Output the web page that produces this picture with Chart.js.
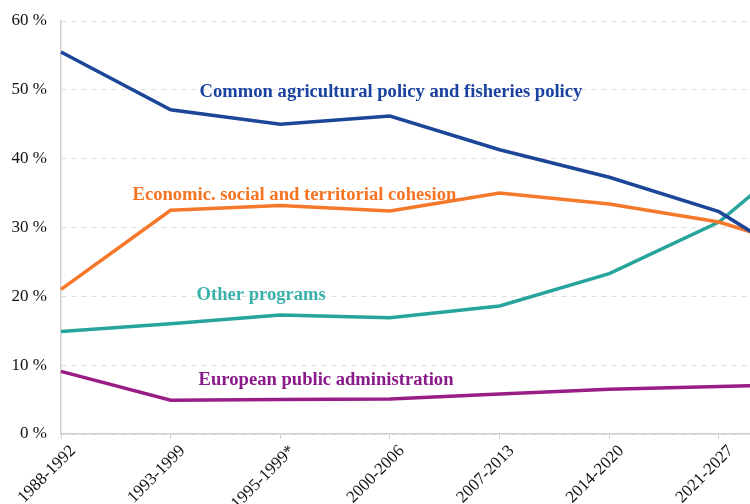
<!DOCTYPE html>
<html>
<head>
<meta charset="utf-8">
<script src="https://cdn.jsdelivr.net/npm/chart.js@4.4.1/dist/chart.umd.min.js"></script>
<style>
  html, body { margin: 0; padding: 0; background: #fff; overflow: hidden; }
  #wrap { width: 845px; height: 504px; }
</style>
</head>
<body>
<div id="wrap"><canvas id="myChart"></canvas></div>
<script>
// budget periods (last one runs past the right edge)
const periods = ['1988-1992', '1993-1999', '1995-1999*', '2000-2006', '2007-2013', '2014-2020', '2021-2027', ''];

// share of the budget, %
const agriculture = [55.5, 47.1, 45.0, 46.2, 41.3, 37.3, 32.3, 22.4];
const cohesion    = [21.0, 32.5, 33.2, 32.4, 35.0, 33.4, 30.8, 25.9];
const other       = [14.9, 16.0, 17.3, 16.9, 18.6, 23.3, 30.8, 44.1];
const admin       = [9.1, 4.9, 5.0, 5.1, 5.8, 6.5, 6.9, 7.3];

const yTicks = [0, 10, 20, 30, 40, 50, 60];

const names = [
  'Common agricultural policy and fisheries policy',
  'Economic. social and territorial cohesion',
  'Other programs',
  'European public administration'
];
const lineColors = ['#1c4697', '#f5782b', '#27a59c', '#981e85'];
const textColors = ['#1a43a0', '#f57424', '#3bb2a9', '#8a1a8a'];
// where each name sits: [category index, value]
const namePos = [[1.264, 49.7], [0.652, 34.7], [1.236, 20.2], [1.255, 7.85]];

const seriesLabels = {
  id: 'seriesLabels',
  afterDatasetsDraw(chart) {
    const { ctx, scales: { x, y } } = chart;
    ctx.save();
    ctx.font = 'bold 18.6px "Liberation Serif", "Times New Roman", serif';
    ctx.textBaseline = 'middle';
    ctx.textAlign = 'left';
    names.forEach((name, i) => {
      ctx.fillStyle = textColors[i];
      ctx.fillText(name, x.getPixelForValue(namePos[i][0]), y.getPixelForValue(namePos[i][1]));
    });
    ctx.restore();
  }
};

const serif = '"Liberation Serif", "Times New Roman", serif';

const ctx = document.getElementById('myChart');

new Chart(ctx, {
  type: 'line',
  data: {
    labels: periods,
    datasets: [agriculture, cohesion, other, admin].map((d, i) => ({
      label: names[i],
      data: d,
      borderColor: lineColors[i],
      borderWidth: 3.5,
      pointRadius: 0,
      tension: 0,
      fill: false
    }))
  },
  options: {
    animation: false,
    responsive: true,
    maintainAspectRatio: false,
    layout: { padding: { left: 0, top: 21, right: 5, bottom: 0 } },
    plugins: {
      legend: { display: false },
      tooltip: { enabled: false }
    },
    scales: {
      x: {
        afterFit: axis => { axis.height = 70; },
        grid: { drawOnChartArea: false, drawTicks: true, tickLength: 5, color: '#cfcfcf' },
        border: { color: '#cfcfcf', width: 1.5 },
        ticks: {
          autoSkip: false,
          maxRotation: 45,
          minRotation: 45,
          padding: 2,
          labelOffset: 12,
          color: '#111',
          font: { family: serif, size: 17 }
        }
      },
      y: {
        min: 0,
        max: 60,
        afterFit: axis => { axis.width = 61; axis.paddingTop = 0; axis.paddingBottom = 0; },
        afterBuildTicks: axis => { axis.ticks = yTicks.map(v => ({ value: v })); },
        grid: { drawTicks: false, color: '#dedede', lineWidth: 1 },
        border: { color: '#cfcfcf', width: 1.5, dash: [5, 5] },
        ticks: {
          padding: 14,
          color: '#111',
          font: { family: serif, size: 17 },
          callback: v => v + ' %'
        }
      }
    }
  },
  plugins: [seriesLabels]
});
</script>
</body>
</html>
